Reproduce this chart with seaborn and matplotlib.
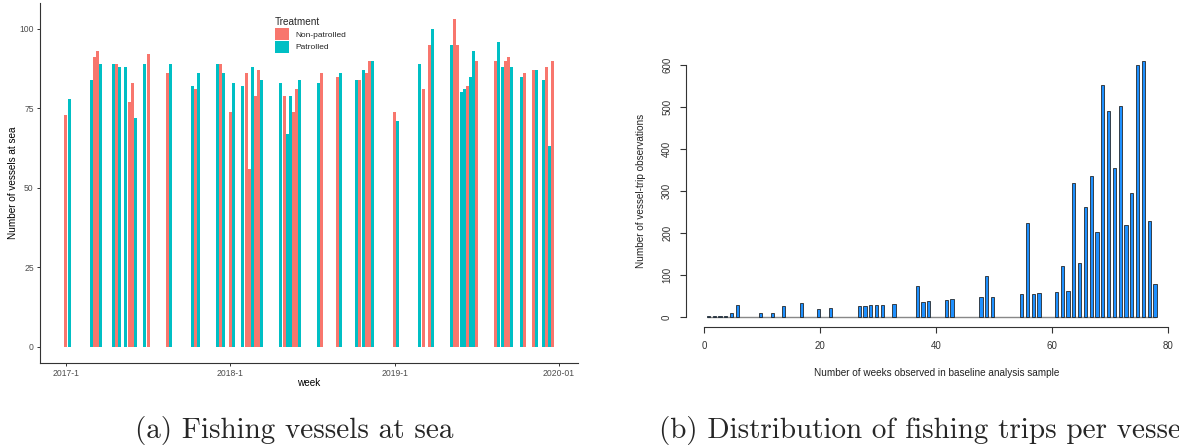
import numpy as np
import pandas as pd
import matplotlib
matplotlib.use("Agg")
import matplotlib.pyplot as plt
import seaborn as sns

# ---------------- Panel (a): number of vessels at sea per week ----------------
week_ticks = [0, 52, 104, 156]
week_tick_labels = ["2017-1", "2018-1", "2019-1", "2020-01"]
treatments = ["Non-patrolled", "Patrolled"]
treatment_colors = ["#F8766D", "#00BFC4"]

nonpatrolled_weeks = [0, 9, 10, 16, 20, 21, 26, 32,
                      41, 49, 52, 57, 58, 60, 61, 69, 72, 73,
                      81, 86, 93, 95, 96, 104, 113, 115,
                      123, 124, 127, 130, 136, 139, 140, 145, 148, 152, 154]
nonpatrolled_vessels = [73, 91, 93, 89, 77, 83, 92, 86,
                        81, 89, 74, 86, 56, 79, 87, 79, 74, 81,
                        86, 85, 84, 86, 90, 74, 81, 95,
                        103, 95, 82, 90, 90, 90, 91, 86, 87, 88, 90]
patrolled_weeks = [1, 8, 11, 15, 17, 19, 22, 25, 33,
                   40, 42, 48, 50, 53, 56, 59, 62, 68, 70, 71, 74, 80,
                   87, 92, 94, 97, 105, 112, 116,
                   122, 125, 126, 128, 129, 137, 138, 141, 144, 149, 151, 153]
patrolled_vessels = [78, 84, 89, 89, 88, 88, 72, 89, 89,
                     82, 86, 89, 86, 83, 82, 88, 84, 83, 67, 79, 84, 83,
                     86, 84, 87, 90, 71, 89, 100,
                     95, 80, 81, 85, 93, 96, 88, 88, 85, 87, 84, 63]
vessel_yticks = [0, 25, 50, 75, 100]

# ---------------- Panel (b): distribution of trips per vessel ----------------
weeks_observed = [1, 2, 3, 4, 5, 6, 10, 12, 14, 17, 20, 22,
                  27, 28, 29, 30, 31, 33, 37, 38, 39, 42, 43,
                  48, 49, 50, 55, 56, 57, 58,
                  61, 62, 63, 64, 65, 66, 67, 68, 69, 70, 71, 72, 73, 74, 75, 76, 77, 78]
trip_observations = [2, 3, 4, 4, 10, 29, 10, 11, 27, 33, 19, 21,
                     27, 27, 29, 29, 30, 32, 73, 37, 38, 41, 43,
                     48, 97, 49, 54, 224, 56, 57,
                     60, 122, 62, 319, 129, 263, 335, 203, 551, 490, 354, 502, 219, 295, 600, 608, 229, 78]
trip_xticks = [0, 20, 40, 60, 80]
trip_yticks = [0, 100, 200, 300, 400, 500, 600]

caption_a = "(a) Fishing vessels at sea"
caption_b = "(b) Distribution of fishing trips per vesse"

sns.set_style("ticks")
plt.rcParams['font.family'] = ['Liberation Sans', 'DejaVu Sans']

W, H = 1179, 447
fig = plt.figure(figsize=(W / 100, H / 100), dpi=100)


def ax_at(l, t, r, b):
    return fig.add_axes([l / W, 1 - b / H, (r - l) / W, (b - t) / H])


# ---- Panel (a) ----
axA = ax_at(40, 3, 578, 363)
dfA = pd.DataFrame({
    "week": nonpatrolled_weeks + patrolled_weeks,
    "vessels": nonpatrolled_vessels + patrolled_vessels,
    "Treatment": [treatments[0]] * len(nonpatrolled_weeks) + [treatments[1]] * len(patrolled_weeks),
})
sns.barplot(data=dfA, x="week", y="vessels", hue="Treatment", hue_order=treatments,
            palette=dict(zip(treatments, treatment_colors)), native_scale=True,
            dodge=False, width=0.95, saturation=1, errorbar=None, orient="x",
            linewidth=0, ax=axA)
axA.set_xlim(-8.2, 162)
axA.set_ylim(-5.15, 108.15)
axA.set_xticks(week_ticks)
axA.set_xticklabels(week_tick_labels)
axA.set_yticks(vessel_yticks)
for s in ["top", "right"]:
    axA.spines[s].set_visible(False)
for s in ["left", "bottom"]:
    axA.spines[s].set_color("#333333")
    axA.spines[s].set_linewidth(0.8)
axA.tick_params(axis="both", length=2.5, width=0.7, color="#333333",
                labelsize=6.2, labelcolor="#4D4D4D", pad=2)
axA.set_xlabel("week", fontsize=7.2, color="black")
axA.set_ylabel("Number of vessels at sea", fontsize=7.2, color="black")
axA.xaxis.set_label_coords(0.5, -0.042)
axA.yaxis.set_label_coords(-0.040, 0.5)
handles, labels = axA.get_legend_handles_labels()
leg = axA.legend(handles, labels, title="Treatment", loc="upper left",
                 bbox_to_anchor=(0.4368, 0.961), borderaxespad=0, borderpad=0,
                 frameon=False, fontsize=6, title_fontsize=7.2,
                 handlelength=1.7, handleheight=1.8, handletextpad=0.7,
                 labelspacing=0.12, alignment="left")

# ---- Panel (b) ----
axB = ax_at(685.7, 54.6, 1186.9, 327.3)
x_pos = np.array(weeks_observed) - 0.3
sns.barplot(x=x_pos, y=trip_observations, native_scale=True, orient="x",
            width=0.55, color="#1E90FF", saturation=1, edgecolor="#1a1a1a",
            linewidth=0.55, errorbar=None, ax=axB, zorder=2)
axB.hlines(0, x_pos[0] - 0.25, x_pos[-1] + 0.25, color="#888888", lw=1.0, zorder=1)
axB.set_xlim(-3.2, 83.2)
axB.set_ylim(-24, 624)
axB.set_xticks(trip_xticks)
axB.set_yticks(trip_yticks)
for s in ["top", "right"]:
    axB.spines[s].set_visible(False)
axB.spines["left"].set_bounds(trip_yticks[0], trip_yticks[-1])
axB.spines["bottom"].set_bounds(trip_xticks[0], trip_xticks[-1])
for s in ["left", "bottom"]:
    axB.spines[s].set_color("#333333")
    axB.spines[s].set_linewidth(0.8)
axB.tick_params(axis="both", length=4.3, width=0.8, color="#333333",
                labelsize=7, labelcolor="#333333", pad=5.5)
for lab in axB.get_yticklabels():
    lab.set_rotation(90)
    lab.set_va("center")
axB.set_xlabel("Number of weeks observed in baseline analysis sample", fontsize=7.2, color="#222222")
axB.set_ylabel("Number of vessel-trip observations", fontsize=7.2, color="#222222")
axB.xaxis.set_label_coords(0.5, -0.149)
axB.yaxis.set_label_coords(-0.079, 0.5)

# ---- Captions ----
fig.text(294 / W, 1 - 438 / H, caption_a, family="cmr10",
         fontsize=21, ha="center", va="baseline")
fig.text(659 / W, 1 - 438 / H, caption_b, family="cmr10",
         fontsize=21, ha="left", va="baseline")

fig.savefig("out.png", dpi=100)
